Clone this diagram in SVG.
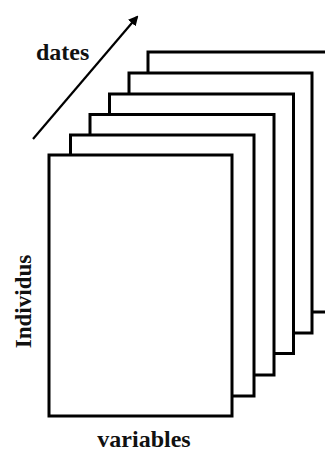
<svg xmlns="http://www.w3.org/2000/svg" width="325" height="451" viewBox="0 0 325 451">
  <style>
    .sheet { fill: #ffffff; stroke: #000000; stroke-width: 3; }
    .lbl { font-family: "Liberation Serif", "Times New Roman", serif; font-weight: bold; fill: #111111; }
    .arrow { stroke: #000000; stroke-width: 2.2; fill: none; }
  </style>
  <defs>
    <marker id="ah" markerWidth="10" markerHeight="10" refX="8" refY="5" orient="auto" markerUnits="userSpaceOnUse" viewBox="0 0 10 10">
      <path d="M0,0 L10,5 L0,10 z" fill="#000000"/>
    </marker>
  </defs>
  <rect width="325" height="451" fill="#ffffff"/>
  <g id="sheet6"><rect class="sheet" x="148" y="52" width="183" height="260"/></g>
  <g id="sheet5"><rect class="sheet" x="129" y="73" width="183" height="260"/></g>
  <g id="sheet4"><rect class="sheet" x="109.5" y="94" width="184" height="259.5"/></g>
  <g id="sheet3"><rect class="sheet" x="90" y="114.5" width="184" height="260.5"/></g>
  <g id="sheet2"><rect class="sheet" x="70.5" y="135" width="183.5" height="261"/></g>
  <g id="sheet1"><rect class="sheet" x="49" y="155" width="183" height="261"/></g>
  <g id="connectors">
    <line class="arrow" x1="33" y1="139" x2="137" y2="17" marker-end="url(#ah)"/>
  </g>
  <g id="label-dates"><text class="lbl" x="36" y="60" font-size="24">dates</text></g>
  <g id="label-variables"><text class="lbl" x="144" y="447" font-size="24" text-anchor="middle">variables</text></g>
  <g id="label-individus"><text class="lbl" font-size="23" text-anchor="middle" transform="translate(31,301.5) rotate(-90)">Individus</text></g>
</svg>
